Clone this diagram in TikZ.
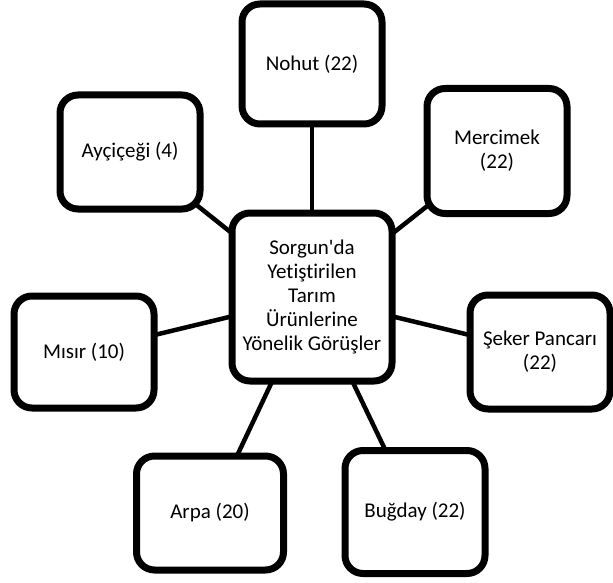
\documentclass[tikz,border=0pt]{standalone}
\usepackage{fontspec}
\setmainfont{Carlito}[Ligatures={NoCommon}]
\usetikzlibrary{shadows, backgrounds}

\begin{document}
\begin{tikzpicture}[
        x=1pt, y=-1pt,
        font=\fontsize{21}{24}\selectfont,
        % Define Styles
        cropbox/.style={rectangle, draw=black, line width=7pt, fill=white, rounded corners=18pt, minimum width=140pt, minimum height=114pt, align=center, inner sep=4pt,
            drop shadow={shadow xshift=2pt, shadow yshift=-3pt, opacity=0.18, fill=black}},
        hubbox/.style={cropbox, minimum width=160pt, minimum height=168pt},
        link/.style={line width=4.5pt, draw=black}
    ]

    \useasboundingbox (0,0) rectangle (613,583);

    % --- CENTRE ---
    \node[hubbox] (hub) at (312,297) {Sorgun\textquotesingle da\\Yetiştirilen\\Tarım\\Ürünlerine\\Yönelik Görüşler};

    % --- CROPS ---
    \node[cropbox, minimum height=120pt] (nohut) at (312,64) {Nohut (22)};
    \node[cropbox, minimum height=125pt] (mercimek) at (497,151) {Mercimek\\(22)};
    \node[cropbox] (aycicegi) at (130,152) {Ayçiçeği (4)};
    \node[cropbox, minimum height=112pt] (misir) at (84,352) {Mısır (10)};
    \node[cropbox] (seker) at (540,352) {Şeker Pancarı\\(22)};
    \node[cropbox, minimum width=147pt] (arpa) at (210,513) {Arpa (20)};
    \node[cropbox, minimum height=123pt] (bugday) at (415,512) {Buğday (22)};

    % --- LINKS ---
    \begin{scope}[on background layer]
        \foreach \crop in {nohut, mercimek, aycicegi, misir, seker, arpa, bugday}
            \draw[link] (hub.center) -- (\crop.center);
    \end{scope}

\end{tikzpicture}
\end{document}
